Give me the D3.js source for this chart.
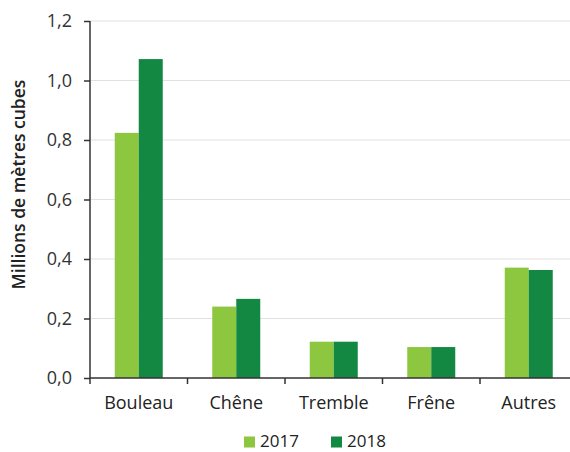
<!DOCTYPE html>
<html>
<head>
<meta charset="utf-8">
<script src="https://cdn.jsdelivr.net/npm/d3@7"></script>
<style>
  html, body { margin: 0; padding: 0; background: #fff; }
  svg { display: block; font-family: "Open Sans", "Noto Sans", sans-serif; }
</style>
</head>
<body>
<svg id="chart" width="570" height="452"></svg>
<script>
// Essences de bois : volumes en millions de mètres cubes
const categories = ["Bouleau", "Chêne", "Tremble", "Frêne", "Autres"];
const years = ["2017", "2018"];
const values2017 = [0.824, 0.240, 0.122, 0.104, 0.371];
const values2018 = [1.072, 0.266, 0.122, 0.104, 0.363];
const yTicks = [0, 0.2, 0.4, 0.6, 0.8, 1.0, 1.2];
const colors = ["#8dc63f", "#138843"];
const yTitle = "Millions de mètres cubes";

const series = [values2017, values2018];
const svg = d3.select("#chart");
const fontFamily = "'Open Sans', 'Noto Sans', sans-serif";

const x0 = 90, plotRight = 577.5, yTop = 21, yBase = 378;

const x = d3.scaleBand().domain(categories).range([x0, plotRight]).paddingInner(0).paddingOuter(0);
const xSub = d3.scaleBand().domain(years).range([0, 48]);
const y = d3.scaleLinear().domain([0, 1.2]).range([yBase, yTop]);

// Grille horizontale
svg.append("g")
  .selectAll("line")
  .data(yTicks.slice(1))
  .join("line")
  .attr("x1", x0).attr("x2", 570)
  .attr("y1", d => y(d)).attr("y2", d => y(d))
  .attr("stroke", "#e1e1e1").attr("stroke-width", 1.2);

// Barres
const groups = svg.append("g")
  .selectAll("g")
  .data(categories)
  .join("g")
  .attr("transform", c => `translate(${x(c) + (x.bandwidth() - 48) / 2},0)`);

groups.selectAll("rect")
  .data((c, i) => years.map((yr, k) => ({ yr, v: series[k][i], k })))
  .join("rect")
  .attr("x", d => xSub(d.yr))
  .attr("width", xSub.bandwidth())
  .attr("y", d => y(d.v))
  .attr("height", d => yBase - y(d.v))
  .attr("fill", d => colors[d.k]);

// Axe Y
const fmt = d => d3.format(".1f")(d).replace(".", ",");
const yAxis = svg.append("g")
  .attr("transform", `translate(${x0},0)`)
  .call(d3.axisLeft(y).tickValues(yTicks).tickFormat(fmt).tickSize(6).tickPadding(12));
yAxis.select(".domain").attr("stroke", "#333").attr("stroke-width", 1.5).attr("d", `M0,${yTop}V${yBase}`);
yAxis.selectAll(".tick line").attr("stroke", "#333").attr("stroke-width", 1.5);
yAxis.selectAll(".tick text").attr("font-size", 18).attr("fill", "#333")
  .attr("font-family", fontFamily);

// Axe X
const xAxis = svg.append("g")
  .attr("transform", `translate(0,${yBase})`)
  .call(d3.axisBottom(x).tickSize(0).tickPadding(18));
xAxis.select(".domain").attr("stroke", "#333").attr("stroke-width", 1.5).attr("d", `M${x0},0H570`);
xAxis.selectAll(".tick text").attr("font-size", 18).attr("fill", "#222")
  .attr("font-family", fontFamily);
// Séparateurs entre catégories
xAxis.append("g")
  .selectAll("line")
  .data(categories)
  .join("line")
  .attr("x1", c => x(c)).attr("x2", c => x(c))
  .attr("y1", 0).attr("y2", 6)
  .attr("stroke", "#333").attr("stroke-width", 1.5);

// Titre de l'axe Y
svg.append("text")
  .attr("transform", `translate(25,184.5) rotate(-90)`)
  .attr("text-anchor", "middle")
  .attr("font-size", 17.5).attr("font-weight", 600).attr("fill", "#222")
  .attr("font-family", fontFamily)
  .text(yTitle);

// Légende
const legend = svg.append("g");
const legX = [244, 331];
years.forEach((yr, k) => {
  legend.append("rect").attr("x", legX[k]).attr("y", 436.5).attr("width", 11).attr("height", 11).attr("fill", colors[k]);
  legend.append("text").attr("x", legX[k] + 16).attr("y", 447)
    .attr("font-size", 17).attr("fill", "#222")
    .attr("font-family", fontFamily).text(yr);
});
</script>
</body>
</html>
